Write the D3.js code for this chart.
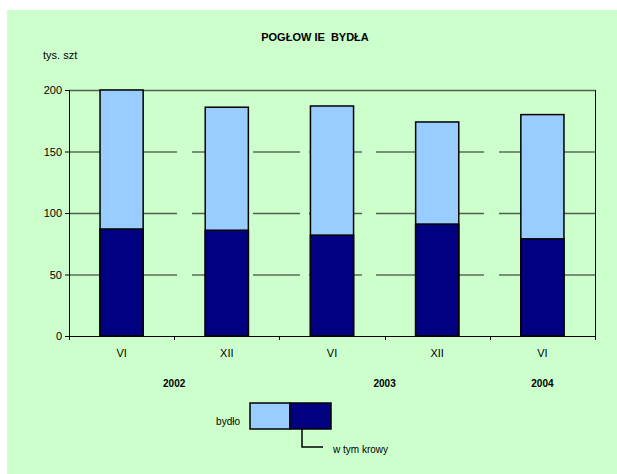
<!DOCTYPE html>
<html lang="pl">
<head>
  <meta charset="UTF-8">
  <title>Pogłowie bydła</title>
  <script src="https://d3js.org/d3.v7.min.js"></script>
  <style>
    body { margin: 0; background: #fff; }
    text { font-family: "Liberation Sans", Arial, sans-serif; fill: #000; }
  </style>
</head>
<body>
  <svg id="chart" width="617" height="474"></svg>

  <script>
    // data
    const categories = ["VI", "XII", "VI", "XII", "VI"];
    const bydlo = [200, 186, 187, 174, 180];   // total cattle
    const krowy = [87, 86, 82, 91, 79];        // of which cows
    const yTicks = [0, 50, 100, 150, 200];
    const years = ["2002", "2003", "2004"];
    const yearSpan = [[0, 1], [2, 3], [4, 4]]; // categories under each year

    const svg = d3.select('#chart');
    const bg = '#ccffcc';

    // green chart area
    svg.append('rect')
      .attr('x', 7).attr('y', 10)
      .attr('width', 610).attr('height', 464)
      .attr('fill', bg);

    const plot = { left: 69, right: 595, top: 90, bottom: 336 };

    const x = d3.scaleBand()
      .domain(d3.range(categories.length))
      .range([plot.left, plot.right])
      .paddingInner(0.59)
      .paddingOuter(0.295);

    const y = d3.scaleLinear()
      .domain([0, 200])
      .range([plot.bottom, plot.top]);

    // gridlines (the 100 and 200 lines look greyer/heavier in the original)
    svg.append('g')
      .selectAll('line')
      .data(yTicks.filter(d => d > 0))
      .join('line')
      .attr('x1', plot.left).attr('x2', plot.right)
      .attr('y1', d => y(d) + 0.5).attr('y2', d => y(d) + 0.5)
      .attr('stroke', d => d % 100 === 0 ? '#4f5f4f' : '#222')
      .attr('stroke-width', d => d % 100 === 0 ? 1.4 : 1);

    // the original has small breaks in the gridlines between bars
    const breaks = [[177, 192], [247, 253], [300, 309], [362, 376], [484, 499]];
    svg.append('g')
      .selectAll('rect')
      .data(breaks)
      .join('rect')
      .attr('x', d => d[0]).attr('width', d => d[1] - d[0])
      .attr('y', plot.top + 20).attr('height', plot.bottom - plot.top - 25)
      .attr('fill', bg);

    // right frame
    svg.append('line')
      .attr('x1', plot.right + 0.5).attr('x2', plot.right + 0.5)
      .attr('y1', plot.top).attr('y2', plot.bottom + 3)
      .attr('stroke', '#000');

    // bars: total first, cows drawn over it
    svg.append('g')
      .selectAll('rect')
      .data(bydlo)
      .join('rect')
      .attr('x', (d, i) => x(i))
      .attr('y', d => y(d))
      .attr('width', x.bandwidth())
      .attr('height', d => y(0) - y(d))
      .attr('fill', '#99ccff')
      .attr('stroke', '#000')
      .attr('stroke-width', 1.5);

    svg.append('g')
      .selectAll('rect')
      .data(krowy)
      .join('rect')
      .attr('x', (d, i) => x(i))
      .attr('y', d => y(d))
      .attr('width', x.bandwidth())
      .attr('height', d => y(0) - y(d))
      .attr('fill', '#000080')
      .attr('stroke', '#000')
      .attr('stroke-width', 1.5);

    // y axis
    const yAxis = svg.append('g')
      .attr('transform', `translate(${plot.left},0)`)
      .call(d3.axisLeft(y).tickValues(yTicks).tickSize(4).tickPadding(3));
    yAxis.select('.domain').attr('stroke', '#000');
    yAxis.selectAll('.tick line').attr('stroke', '#000');
    yAxis.selectAll('.tick text')
      .attr('font-size', 11)
      .attr('font-family', '"Liberation Sans", Arial, sans-serif');

    // x axis: ticks on category boundaries
    const step = x.step();
    const bounds = d3.range(categories.length + 1).map(i => plot.left + i * step);
    svg.append('line')
      .attr('x1', plot.left).attr('x2', plot.right)
      .attr('y1', plot.bottom + 0.5).attr('y2', plot.bottom + 0.5)
      .attr('stroke', '#000');
    svg.append('g')
      .selectAll('line')
      .data(bounds)
      .join('line')
      .attr('x1', d => Math.round(d) + 0.5).attr('x2', d => Math.round(d) + 0.5)
      .attr('y1', plot.bottom).attr('y2', plot.bottom + 4)
      .attr('stroke', '#000');

    svg.append('g')
      .selectAll('text')
      .data(categories)
      .join('text')
      .attr('x', (d, i) => x(i) + x.bandwidth() / 2)
      .attr('y', 357)
      .attr('text-anchor', 'middle')
      .attr('font-size', 11)
      .text(d => d);

    svg.append('g')
      .selectAll('text')
      .data(years)
      .join('text')
      .attr('x', (d, i) => (x(yearSpan[i][0]) + x(yearSpan[i][1])) / 2 + x.bandwidth() / 2)
      .attr('y', 387)
      .attr('text-anchor', 'middle')
      .attr('font-size', 10)
      .attr('font-weight', 'bold')
      .text(d => d);

    // title and unit
    svg.append('text')
      .attr('x', 315).attr('y', 41)
      .attr('text-anchor', 'middle')
      .attr('font-size', 11)
      .attr('font-weight', 'bold')
      .attr('xml:space', 'preserve')
      .text('POGŁOW IE  BYDŁA');

    svg.append('text')
      .attr('x', 43).attr('y', 59)
      .attr('font-size', 11)
      .text('tys. szt');

    // legend
    const lg = svg.append('g');
    lg.append('rect')
      .attr('x', 250).attr('y', 403).attr('width', 40).attr('height', 26)
      .attr('fill', '#99ccff').attr('stroke', '#000').attr('stroke-width', 1.5);
    lg.append('rect')
      .attr('x', 290).attr('y', 403).attr('width', 41).attr('height', 26)
      .attr('fill', '#000080').attr('stroke', '#000').attr('stroke-width', 1.5);
    lg.append('path')
      .attr('d', 'M302,429V447H323')
      .attr('fill', 'none').attr('stroke', '#000').attr('stroke-width', 1.5);
    lg.append('text')
      .attr('x', 240).attr('y', 425)
      .attr('text-anchor', 'end')
      .attr('font-size', 10)
      .text('bydło');
    lg.append('text')
      .attr('x', 333).attr('y', 453)
      .attr('font-size', 10)
      .text('w tym krowy');
  </script>
</body>
</html>
